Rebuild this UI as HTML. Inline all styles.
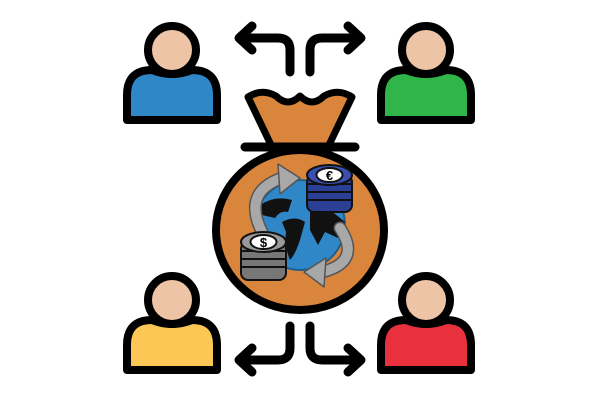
<!DOCTYPE html>
<html><head><style>html,body{margin:0;padding:0;background:#fff}svg{display:block}</style></head>
<body>
<svg width="600" height="400" viewBox="0 0 600 400" xmlns="http://www.w3.org/2000/svg">
<defs>
<g id="person">
  <path d="M-45,70 L-45,45 Q-45,20 -20,20 Q0,28 20,20 Q45,20 45,45 L45,70 Z" stroke="#000" stroke-width="8" stroke-linejoin="round"/>
  <circle cx="0" cy="0" r="24" fill="#eec4a6" stroke="#000" stroke-width="8"/>
</g>
<g id="arrow" fill="none" stroke="#000" stroke-width="9" stroke-linecap="round" stroke-linejoin="round">
  <path d="M290,72 L290,50 Q290,38 278,38 L240,38"/>
  <path d="M252,26 L239,38 L252,50"/>
</g>
</defs>
<use href="#person" x="172" y="50" fill="#2f87c8"/>
<use href="#person" x="426" y="50" fill="#2fb54a"/>
<use href="#person" x="172" y="300" fill="#fdc755"/>
<use href="#person" x="426" y="300" fill="#e8313d"/>
<use href="#arrow"/>
<use href="#arrow" transform="translate(600,0) scale(-1,1)"/>
<use href="#arrow" transform="translate(0,398) scale(1,-1)"/>
<use href="#arrow" transform="translate(600,398) scale(-1,-1)"/>
<!-- bag -->
<path d="M248,97 Q262,88 276,96 Q288,108 300,96 Q312,108 324,96 Q338,88 352,97 L328,147 L272,147 Z" fill="#d9853b" stroke="#000" stroke-width="7" stroke-linejoin="round"/>
<ellipse cx="300" cy="230" rx="84" ry="80" fill="#d9853b" stroke="#000" stroke-width="8"/>
<line x1="245" y1="147" x2="355" y2="147" stroke="#000" stroke-width="9" stroke-linecap="round"/>
<!-- globe -->
<circle cx="300" cy="225" r="45" fill="#2f87c8" stroke="#1f5f90" stroke-width="2"/>
<path d="M260,205 Q275,195 292,200 L288,212 Q280,210 275,218 L262,215 Z M282,222 Q295,215 305,222 L300,240 Q295,255 290,260 Q284,245 286,232 Z M310,205 L330,210 L345,222 L338,238 L325,232 L318,245 L310,230 Z" fill="#111"/>
<!-- gray arrows -->
<path d="M262,232 Q242,192 282,178" fill="none" stroke="#555" stroke-width="13" stroke-linecap="round"/>
<path d="M262,232 Q242,192 282,178" fill="none" stroke="#a8a8a8" stroke-width="10" stroke-linecap="round"/>
<path d="M278,164 L300,178 L280,194 Z" fill="#a8a8a8" stroke="#555" stroke-width="1.5" stroke-linejoin="round"/>
<path d="M340,228 Q362,262 322,272" fill="none" stroke="#555" stroke-width="13" stroke-linecap="round"/>
<path d="M340,228 Q362,262 322,272" fill="none" stroke="#a8a8a8" stroke-width="10" stroke-linecap="round"/>
<path d="M326,258 L304,272 L324,287 Z" fill="#a8a8a8" stroke="#555" stroke-width="1.5" stroke-linejoin="round"/>
<!-- coin stacks -->
<g stroke="#111" stroke-width="2">
<rect x="307" y="175" width="45" height="37" rx="7" fill="#2b3f95"/>
<line x1="307" y1="184" x2="352" y2="184"/><line x1="307" y1="192" x2="352" y2="192"/><line x1="307" y1="200" x2="352" y2="200"/>
<ellipse cx="329.5" cy="175" rx="22.5" ry="10" fill="#3a4fb0"/>
<ellipse cx="329.5" cy="175" rx="13" ry="7" fill="#fff"/>
<rect x="241" y="242" width="45" height="38" rx="7" fill="#777"/>
<line x1="241" y1="251" x2="286" y2="251"/><line x1="241" y1="259" x2="286" y2="259"/><line x1="241" y1="267" x2="286" y2="267"/>
<ellipse cx="263.5" cy="242" rx="22.5" ry="10" fill="#999"/>
<ellipse cx="263.5" cy="242" rx="13" ry="7" fill="#fff"/>
</g>
<text x="329.5" y="180" font-family="Liberation Sans, sans-serif" font-size="13" font-weight="bold" text-anchor="middle">€</text>
<text x="263.5" y="247" font-family="Liberation Sans, sans-serif" font-size="13" font-weight="bold" text-anchor="middle">$</text>
</svg>
</body></html>
